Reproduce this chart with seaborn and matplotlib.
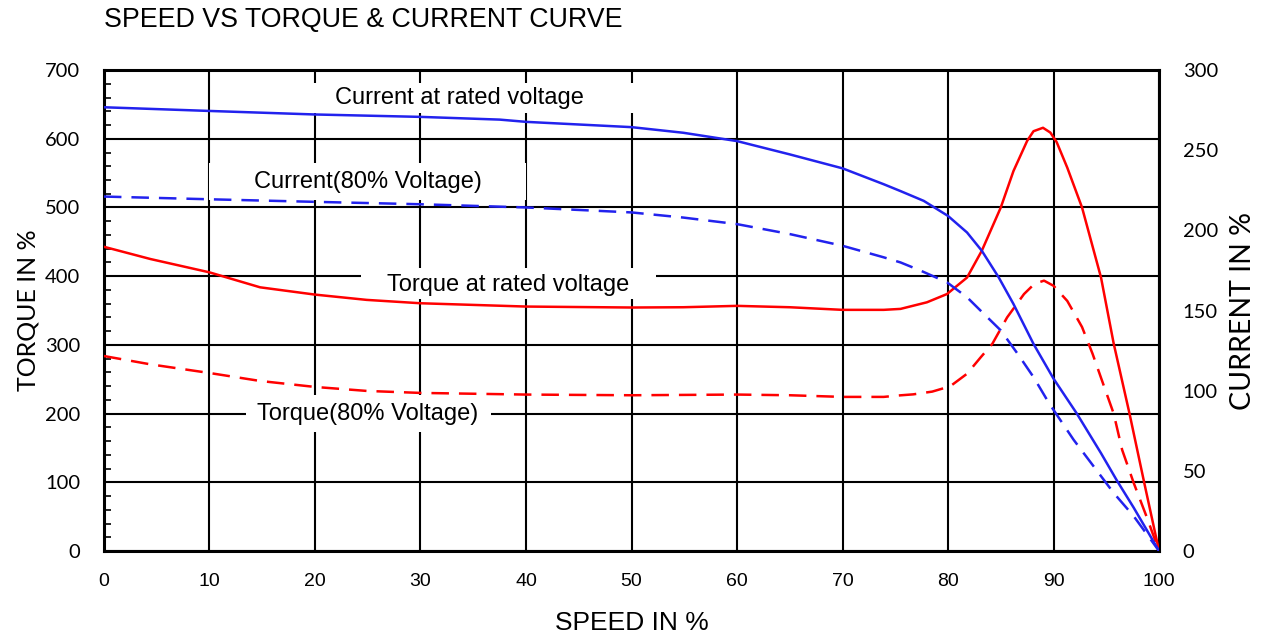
import numpy as np
import pandas as pd
import matplotlib
matplotlib.use("Agg")
import matplotlib.pyplot as plt
from matplotlib.patches import Rectangle
from matplotlib.ticker import MultipleLocator
import seaborn as sns

# speed in % (x) and values
# current curves use the right axis, torque curves use the left axis
cur_rated_x = [0, 10, 20, 30, 37.5, 40, 50, 54.9, 60, 65, 70, 73.9, 75.5, 77.7, 80.0, 81.8, 83.2, 84.8,
               86.2, 88.1, 90.0, 92.2, 94.5, 96.0, 97.6, 100]
cur_rated_y = [276.8, 274.5, 272.3, 270.8, 269.1, 267.7, 264.4, 260.9, 255.7, 247.4, 238.7, 228.8, 224.5,
               218.4, 209, 198.7, 187.3, 170.7, 154.1, 129.2, 107.5, 85.8, 61, 44, 27, 0]

cur_80_x = [0, 10, 20, 30, 40, 50, 54.9, 60, 65, 70, 73.9, 75.5, 77.4, 79.9, 81.8, 83.4, 85.0, 86.6, 88.1,
            89.6, 91.9, 93.8, 95.7, 97.6, 100]
cur_80_y = [221.1, 219.4, 217.8, 216.3, 214.3, 211.2, 208, 203.9, 197.7, 190.4, 183.2, 180, 174.9, 167.6,
            158.3, 147.9, 137.6, 123, 108.5, 91.9, 69.4, 52.8, 36.2, 21.7, 0]

torq_rated_x = [0, 4.4, 10, 14.8, 20, 24.9, 30, 40, 50, 54.9, 60, 65, 70, 73.9, 75.5, 78.0, 79.9, 81.8,
                83.2, 85.0, 86.2, 87.5, 88.1, 89.0, 89.7, 90.3, 91.3, 92.7, 94.5, 95.7, 97.2, 98.6, 100]
torq_rated_y = [442.8, 425, 405.6, 383.8, 373.2, 365.5, 360.6, 355.8, 354.4, 354.8, 356.8, 354.8, 351, 351,
                352.4, 362, 374, 398, 437, 500, 553, 597, 611, 616, 609, 595, 558, 500, 398, 302, 200, 99, 0]

torq_80_x = [0, 4.4, 10, 14.8, 20, 24.9, 30, 40, 50, 60, 65, 70, 73.9, 75.5, 76.7, 78.5, 80.2, 81.8, 83.1,
             84.2, 85.6, 87.2, 88.2, 89.1, 90.0, 91.3, 92.7, 93.7, 94.8, 95.7, 96.5, 97.6, 98.8, 100]
torq_80_y = [283.8, 271.7, 259.1, 247.5, 238.8, 233, 230.1, 227.7, 226.7, 227.7, 226.7, 224.3, 224.3, 226.6,
             228, 232, 239.7, 258, 282, 301.6, 340, 374, 389, 393.5, 386, 364, 326, 287, 239, 200, 147.3,
             99, 50.7, 0]

sns.set_style("white")
plt.rcParams["font.family"] = ["Liberation Sans", "DejaVu Sans"]
for key in ["text.color", "axes.labelcolor", "xtick.color", "ytick.color"]:
    plt.rcParams[key] = "black"

fig = plt.figure(figsize=(12.63, 6.37), dpi=100)
ax = fig.add_axes([0.0823, 0.135, 0.8354, 0.755])
ax2 = ax.twinx()

LW = 1.8
RED = "#ff0000"
BLUE = "#2222ee"

# torque on the left axis
sns.lineplot(x=torq_rated_x, y=torq_rated_y, ax=ax, color=RED, lw=LW, sort=False, zorder=5)
sns.lineplot(x=torq_80_x, y=torq_80_y, ax=ax, color=RED, lw=LW, sort=False, zorder=5)
ax.lines[-1].set_dashes((7, 4))

# current on the right axis
sns.lineplot(x=cur_rated_x, y=cur_rated_y, ax=ax2, color=BLUE, lw=LW, sort=False, zorder=5)
sns.lineplot(x=cur_80_x, y=cur_80_y, ax=ax2, color=BLUE, lw=LW, sort=False, zorder=5)
ax2.lines[-1].set_dashes((7, 4))

ax.set_xlim(0, 100)
ax.set_ylim(0, 700)
ax2.set_ylim(0, 300)
ax.xaxis.set_major_locator(MultipleLocator(10))
ax.yaxis.set_major_locator(MultipleLocator(100))
ax.yaxis.set_minor_locator(MultipleLocator(20))
ax2.yaxis.set_major_locator(MultipleLocator(50))

ax.grid(True, which="major", color="black", lw=1.5)
ax.set_axisbelow(True)
for s in ax.spines.values():
    s.set_color("black")
    s.set_linewidth(2.2)
for s in ax2.spines.values():
    s.set_visible(False)

ax.tick_params(axis="y", which="minor", direction="in", length=5, width=1.2, left=True, color="black")
ax.tick_params(axis="x", which="major", length=0, labelsize=14, pad=16)
ax.tick_params(axis="y", which="major", length=0, pad=17)
ax2.tick_params(axis="y", length=0, pad=17)
for t in ax.get_yticklabels() + ax2.get_yticklabels():
    t.set_fontfamily(["Lato", "DejaVu Sans"])
    t.set_fontsize(14.5)

ax.set_xlabel("SPEED IN %", fontsize=19, labelpad=15)
ax.set_ylabel("TORQUE IN %", fontsize=18, labelpad=4, fontfamily=["Lato", "DejaVu Sans"])
ax2.set_ylabel("CURRENT IN %", fontsize=20.5, labelpad=9, fontfamily=["Lato", "DejaVu Sans"])

fig.text(0.0823, 0.968, "SPEED VS TORQUE & CURRENT CURVE", fontsize=19.3, va="center", ha="left")

# white boxes behind the curve labels (they hide the grid)
boxes = [(17.4, 637, 33.4, 44), (10.0, 511, 30.0, 53.6), (24.4, 367, 27.9, 45), (13.5, 173, 23.2, 54)]
for bx, by, bw, bh in boxes:
    ax.add_patch(Rectangle((bx, by), bw, bh, facecolor="white", edgecolor="none", zorder=2))

ax.text(33.7, 660, "Current at rated voltage", fontsize=17, ha="center", va="center", zorder=6)
ax.text(25.0, 537, "Current(80% Voltage)", fontsize=17, ha="center", va="center", zorder=6)
ax.text(38.3, 387, "Torque at rated voltage", fontsize=17, ha="center", va="center", zorder=6)
ax.text(25.0, 199, "Torque(80% Voltage)", fontsize=17, ha="center", va="center", zorder=6)

fig.savefig("out.png", dpi=100)
